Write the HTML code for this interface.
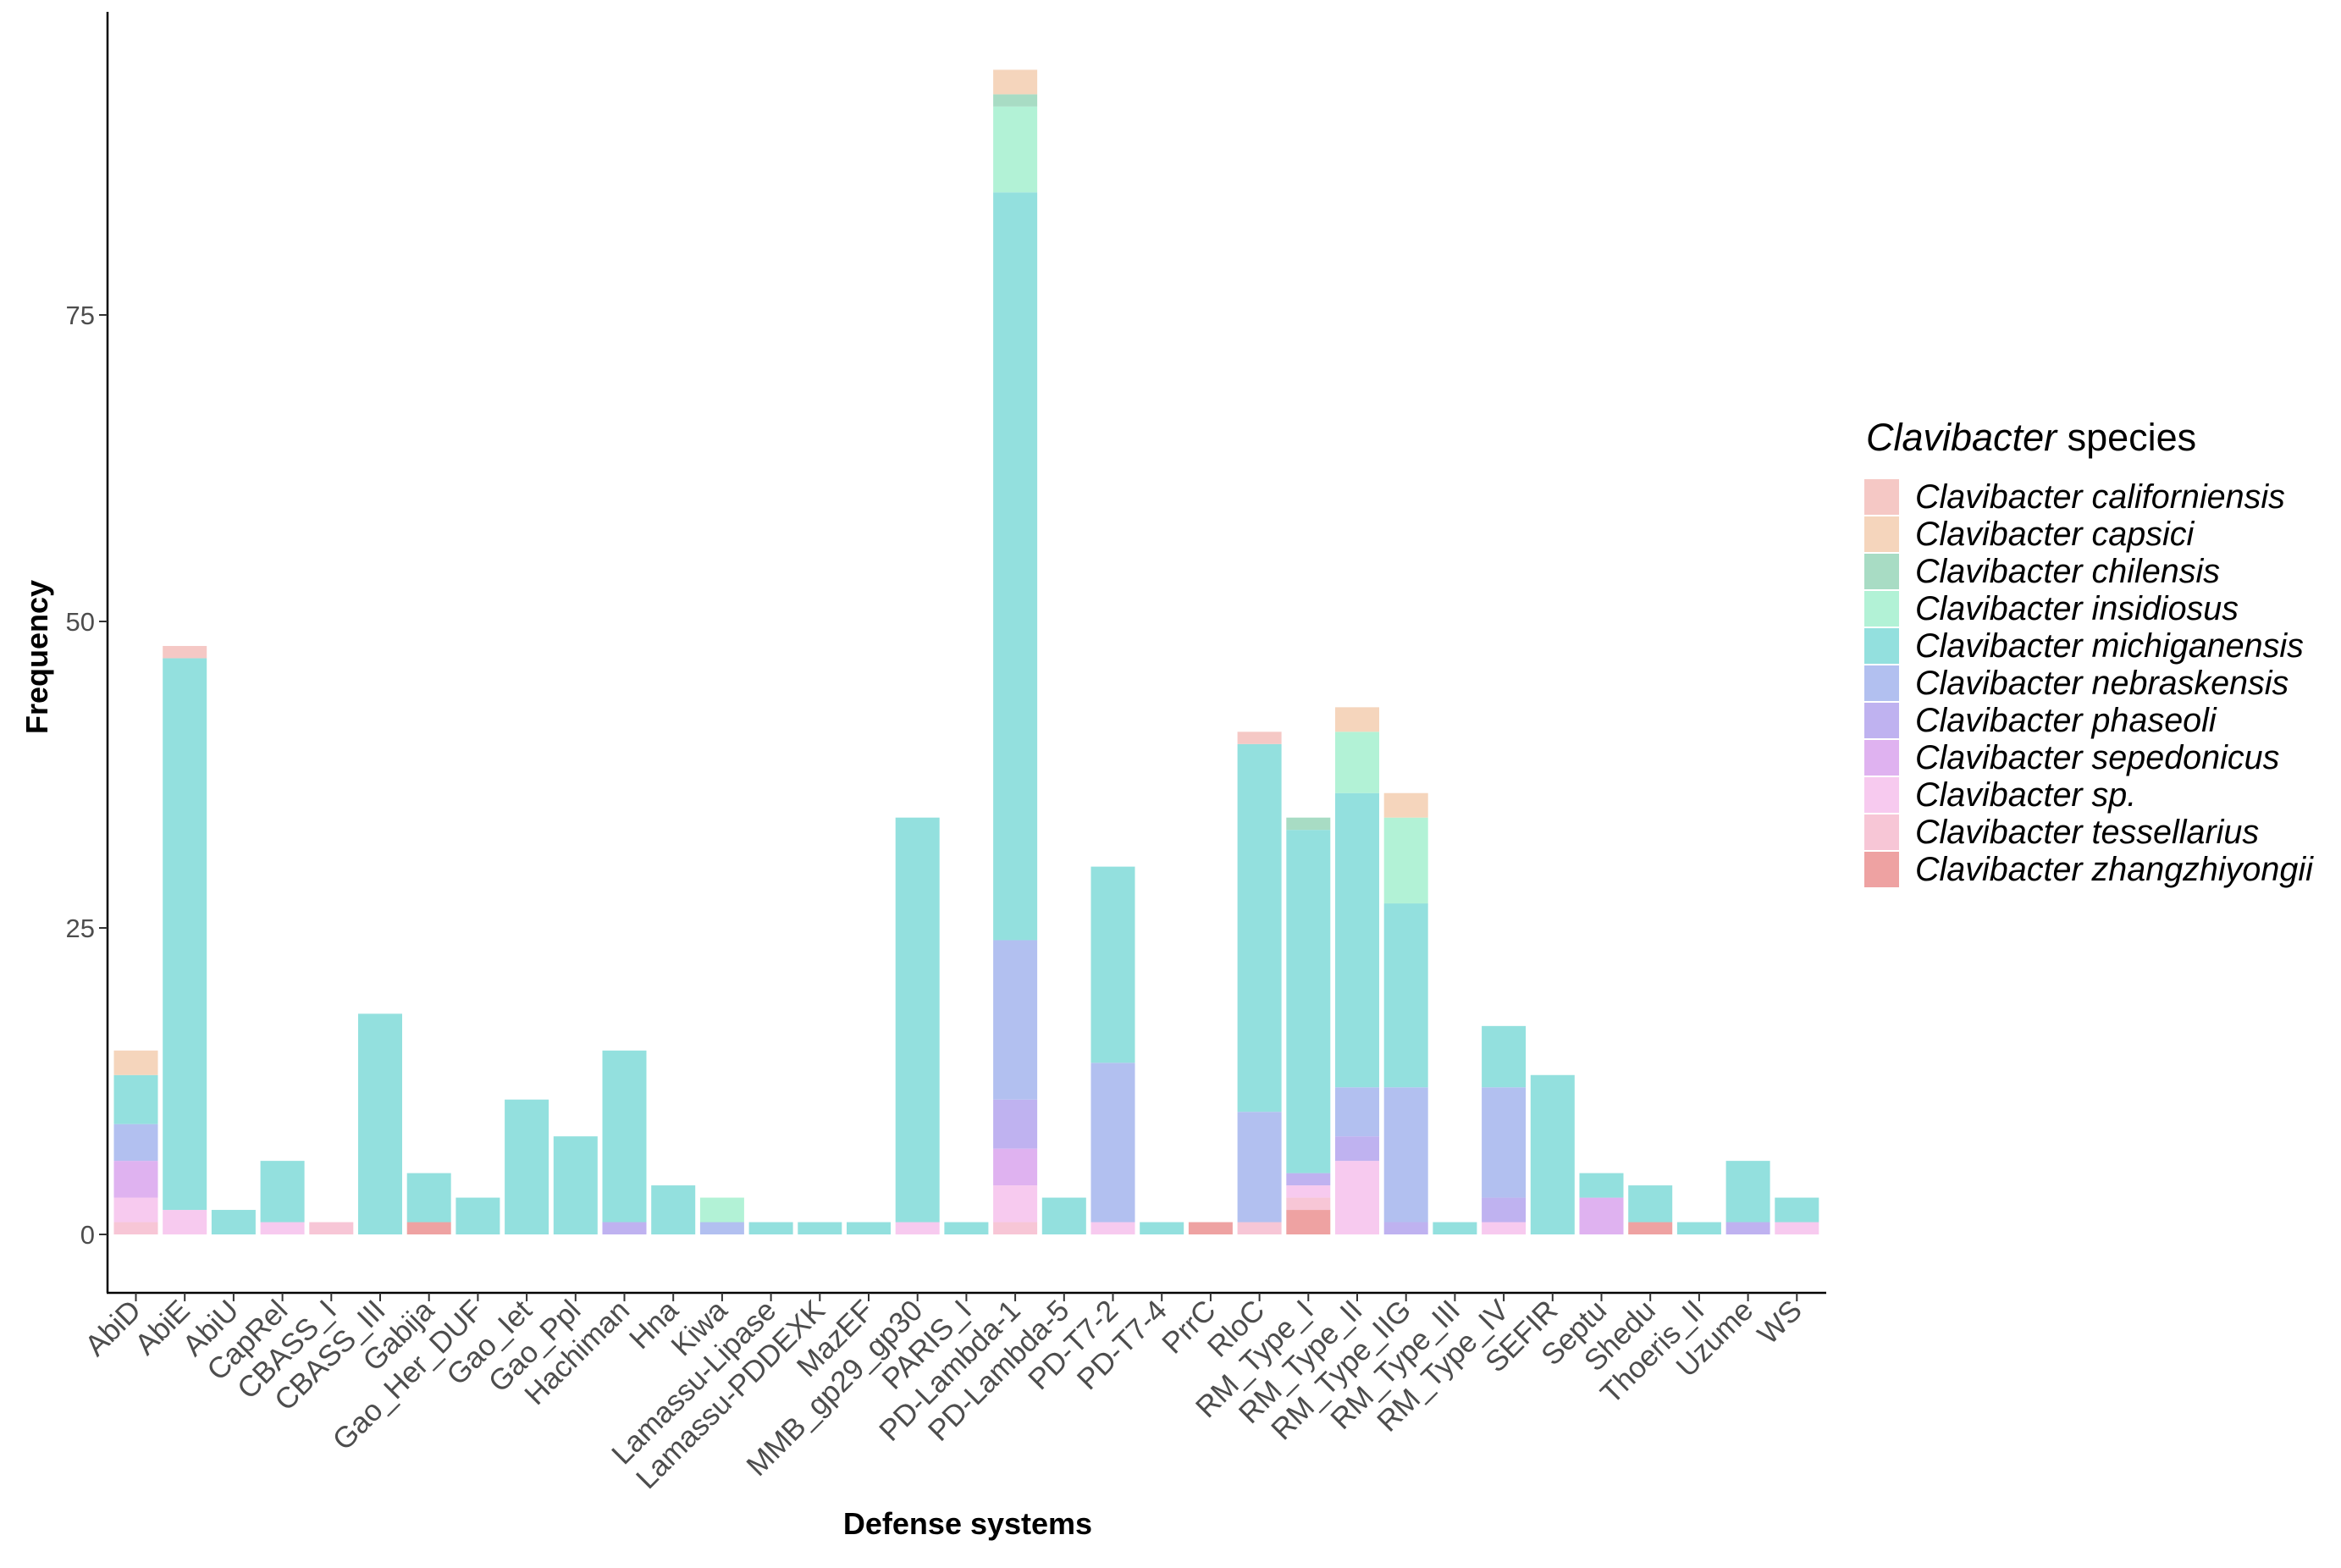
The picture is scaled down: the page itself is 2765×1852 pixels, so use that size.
<!DOCTYPE html>
<html><head><meta charset="utf-8"><style>
html,body{margin:0;padding:0;background:#fff;}
svg{display:block;font-family:"Liberation Sans",sans-serif;}
</style></head><body>
<svg id="chart" width="2765" height="1852" viewBox="0 0 2765 1852" xmlns="http://www.w3.org/2000/svg">
<rect width="2765" height="1852" fill="#fff"/>
<g id="bars"></g>
<g id="axes"></g>
<g id="legend"></g>
</svg>
<script>
const categories = ["AbiD","AbiE","AbiU","CapRel","CBASS_I","CBASS_III","Gabija","Gao_Her_DUF","Gao_Iet","Gao_Ppl","Hachiman","Hna","Kiwa","Lamassu-Lipase","Lamassu-PDDEXK","MazEF","MMB_gp29_gp30","PARIS_I","PD-Lambda-1","PD-Lambda-5","PD-T7-2","PD-T7-4","PrrC","RloC","RM_Type_I","RM_Type_II","RM_Type_IIG","RM_Type_III","RM_Type_IV","SEFIR","Septu","Shedu","Thoeris_II","Uzume","WS"];
const species = ["Clavibacter californiensis","Clavibacter capsici","Clavibacter chilensis","Clavibacter insidiosus","Clavibacter michiganensis","Clavibacter nebraskensis","Clavibacter phaseoli","Clavibacter sepedonicus","Clavibacter sp.","Clavibacter tessellarius","Clavibacter zhangzhiyongii"];
const colors = ["#F5C8C5","#F5D5BC","#A8DCC4","#B2F2D6","#93E0DE","#B2C0F0","#BFB2F0","#DFB2F0","#F7CAEF","#F7C6D6","#EEA2A2"];
// per-species series across categories
const californiensis = [0,1,0,0,0,0,0,0,0,0,0,0,0,0,0,0,0,0,0,0,0,0,0,1,0,0,0,0,0,0,0,0,0,0,0];
const capsici        = [2,0,0,0,0,0,0,0,0,0,0,0,0,0,0,0,0,0,2,0,0,0,0,0,0,2,2,0,0,0,0,0,0,0,0];
const chilensis      = [0,0,0,0,0,0,0,0,0,0,0,0,0,0,0,0,0,0,1,0,0,0,0,0,1,0,0,0,0,0,0,0,0,0,0];
const insidiosus     = [0,0,0,0,0,0,0,0,0,0,0,0,2,0,0,0,0,0,7,0,0,0,0,0,0,5,7,0,0,0,0,0,0,0,0];
const michiganensis  = [4,45,2,5,0,18,4,3,11,8,14,4,0,1,1,1,33,1,61,3,16,1,0,30,28,24,15,1,5,13,2,3,1,5,2];
const nebraskensis   = [3,0,0,0,0,0,0,0,0,0,0,0,1,0,0,0,0,0,13,0,13,0,0,9,0,4,11,0,9,0,0,0,0,0,0];
const phaseoli       = [0,0,0,0,0,0,0,0,0,0,1,0,0,0,0,0,0,0,4,0,0,0,0,0,1,2,1,0,2,0,0,0,0,1,0];
const sepedonicus    = [3,0,0,0,0,0,0,0,0,0,0,0,0,0,0,0,0,0,3,0,0,0,0,0,0,0,0,0,0,0,3,0,0,0,0];
const sp             = [2,2,0,1,0,0,0,0,0,0,0,0,0,0,0,0,1,0,3,0,1,0,0,0,1,6,0,0,1,0,0,0,0,0,1];
const tessellarius   = [1,0,0,0,1,0,0,0,0,0,0,0,0,0,0,0,0,0,1,0,0,0,0,1,1,0,0,0,0,0,0,0,0,0,0];
const zhangzhiyongii = [0,0,0,0,0,0,1,0,0,0,0,0,0,0,0,0,0,0,0,0,0,0,1,0,2,0,0,0,0,0,0,1,0,0,0];
const yTicks = [0,25,50,75];
const yTickLabels = ["0","25","50","75"];

const series = [californiensis,capsici,chilensis,insidiosus,michiganensis,nebraskensis,phaseoli,sepedonicus,sp,tessellarius,zhangzhiyongii];
const NS="http://www.w3.org/2000/svg";
const y0px=1458, unit=14.48, x0=160.5, step=57.7, bw=52;
const yScale=v=>y0px-v*unit;
const xScale=i=>x0+i*step;
function mk(tag,attrs,parent){const e=document.createElementNS(NS,tag);for(const k in attrs)e.setAttribute(k,attrs[k]);parent.appendChild(e);return e;}
const gb=document.getElementById('bars'), ga=document.getElementById('axes'), gl=document.getElementById('legend');
categories.forEach((c,i)=>{
  let cum=0;
  for(let s=series.length-1;s>=0;s--){
    const v=series[s][i]; if(!v) continue;
    const r=mk('rect',{x:xScale(i)-bw/2,y:yScale(cum+v),width:bw,height:v*unit,fill:colors[s]},gb);
    
    
    cum+=v;
  }
});
let l=mk('line',{x1:127,y1:14,x2:127,y2:1527,stroke:'#000','stroke-width':2.5},ga);


l=mk('line',{x1:126,y1:1527,x2:2157,y2:1527,stroke:'#000','stroke-width':2.5},ga);


yTicks.forEach((t,k)=>{
  const y=yScale(t);
  const tk=mk('line',{x1:117,y1:y,x2:127,y2:y,stroke:'#333','stroke-width':2},ga);
  
  
  const tx=mk('text',{x:112,y:y+11,'text-anchor':'end','font-size':31,fill:'#4d4d4d'},ga);
  tx.textContent=yTickLabels[k];
  
  
});
categories.forEach((c,i)=>{
  const x=xScale(i);
  const tk=mk('line',{x1:x,y1:1527,x2:x,y2:1537,stroke:'#333','stroke-width':2},ga);
  
  
  const tx=mk('text',{x:x+8,y:1550,'text-anchor':'end','font-size':35,fill:'#4d4d4d',transform:`rotate(-45 ${x+8} 1550)`},ga);
  tx.textContent=c;
  
  
});
let t=mk('text',{x:1143,y:1812,'text-anchor':'middle','font-size':36,'font-weight':'bold',fill:'#000'},ga);
t.textContent='Defense systems';


t=mk('text',{x:56,y:776,'text-anchor':'middle','font-size':36,'font-weight':'bold',fill:'#000',transform:'rotate(-90 56 776)'},ga);
t.textContent='Frequency';


t=mk('text',{x:2204,y:532,'font-size':45,fill:'#000'},gl);
t.innerHTML='<tspan font-style="italic">Clavibacter</tspan> species';


species.forEach((s,k)=>{
  const y=565+k*44;
  const r=mk('rect',{x:2202,y:y+1,width:41,height:42,fill:colors[k]},gl);
  
  
  const tx=mk('text',{x:2262,y:y+35,'font-size':39.5,'font-style':'italic',fill:'#000'},gl);
  tx.textContent=s;
  
  
});
</script>
</body></html>
